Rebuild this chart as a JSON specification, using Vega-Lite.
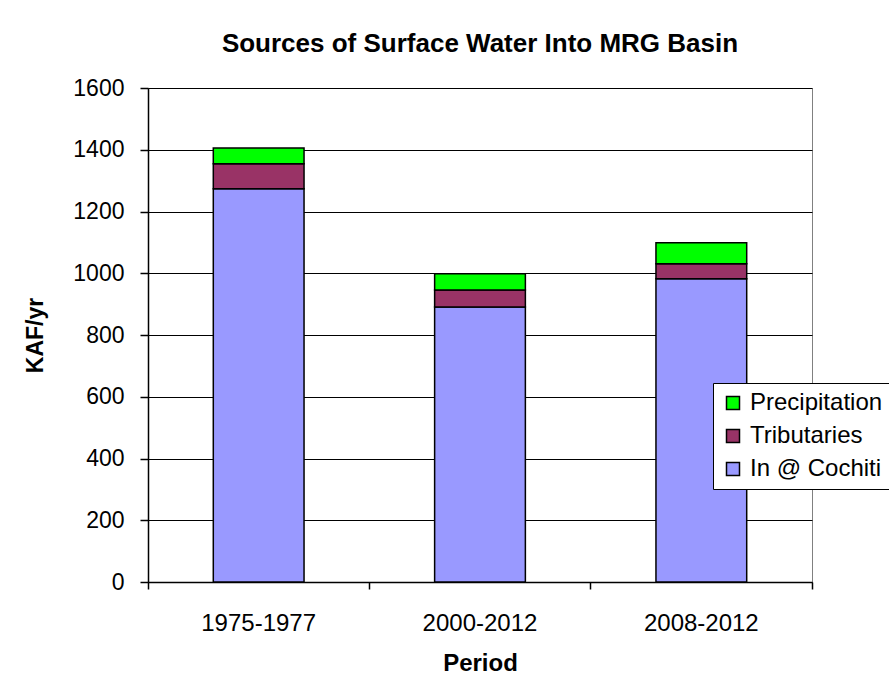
{
  "$schema": "https://vega.github.io/schema/vega-lite/v6.json",
  "width": 664,
  "height": 494,
  "autosize": {"type": "none"},
  "padding": {"left": 148, "top": 88, "right": 77, "bottom": 100},
  "background": "white",
  "title": {"text": "Sources of Surface Water Into MRG Basin", "font": "Liberation Sans", "fontSize": 26, "fontWeight": "bold", "color": "black", "anchor": "middle", "offset": 20},
  "config": {
    "view": {"stroke": "#808080", "strokeWidth": 1},
    "font": "Liberation Sans"
  },
  "data": {
    "values": [
      {"period": "1975-1977", "source": "In @ Cochiti", "kaf": 1274},
      {"period": "1975-1977", "source": "Tributaries", "kaf": 81},
      {"period": "1975-1977", "source": "Precipitation", "kaf": 51},
      {"period": "2000-2012", "source": "In @ Cochiti", "kaf": 891},
      {"period": "2000-2012", "source": "Tributaries", "kaf": 55},
      {"period": "2000-2012", "source": "Precipitation", "kaf": 52},
      {"period": "2008-2012", "source": "In @ Cochiti", "kaf": 982},
      {"period": "2008-2012", "source": "Tributaries", "kaf": 49},
      {"period": "2008-2012", "source": "Precipitation", "kaf": 68}
    ]
  },
  "transform": [
    {"calculate": "indexof(['In @ Cochiti','Tributaries','Precipitation'], datum.source)", "as": "stackorder"}
  ],
  "mark": {"type": "bar", "width": {"band": 0.41}, "stroke": "black", "strokeWidth": 1.5},
  "encoding": {
    "x": {
      "field": "period", "type": "nominal",
      "scale": {"paddingInner": 0, "paddingOuter": 0},
      "axis": {
        "title": "Period", "titleFont": "Liberation Sans", "titleFontSize": 24, "titleFontWeight": "bold", "titleColor": "black", "titlePadding": 16,
        "labelAngle": 0, "labelFont": "Liberation Sans", "labelFontSize": 24, "labelColor": "black", "labelPadding": 22,
        "bandPosition": 1, "tickExtra": true,
        "tickSize": 7, "tickColor": "black", "domainColor": "black", "domainWidth": 1.5, "tickWidth": 1.5, "grid": false
      }
    },
    "y": {
      "field": "kaf", "type": "quantitative", "stack": "zero",
      "scale": {"domain": [0, 1600], "nice": false},
      "axis": {
        "title": "KAF/yr", "titleFont": "Liberation Sans", "titleFontSize": 23, "titleFontWeight": "bold", "titleColor": "black", "titlePadding": 25,
        "values": [0, 200, 400, 600, 800, 1000, 1200, 1400, 1600], "format": "d",
        "labelFont": "Liberation Sans", "labelFontSize": 23, "labelColor": "black", "labelPadding": 16,
        "tickSize": 8, "tickColor": "black", "tickWidth": 1.5, "domainColor": "black", "domainWidth": 1.5,
        "grid": true, "gridColor": "black", "gridWidth": 1.2, "gridOpacity": 1
      }
    },
    "color": {
      "field": "source", "type": "nominal",
      "scale": {"domain": ["Precipitation", "Tributaries", "In @ Cochiti"], "range": ["#00FF00", "#993366", "#9999FF"]},
      "legend": {
        "title": null, "orient": "none", "legendX": 565, "legendY": 295,
        "strokeColor": "black", "fillColor": "white", "padding": 8,
        "symbolType": "square", "symbolSize": 169, "symbolStrokeColor": "black", "symbolStrokeWidth": 1.5, "symbolOpacity": 1,
        "labelFont": "Liberation Sans", "labelFontSize": 24, "labelColor": "black", "rowPadding": 9, "labelLimit": 300, "labelOffset": 5
      }
    },
    "order": {"field": "stackorder", "type": "quantitative"}
  }
}
